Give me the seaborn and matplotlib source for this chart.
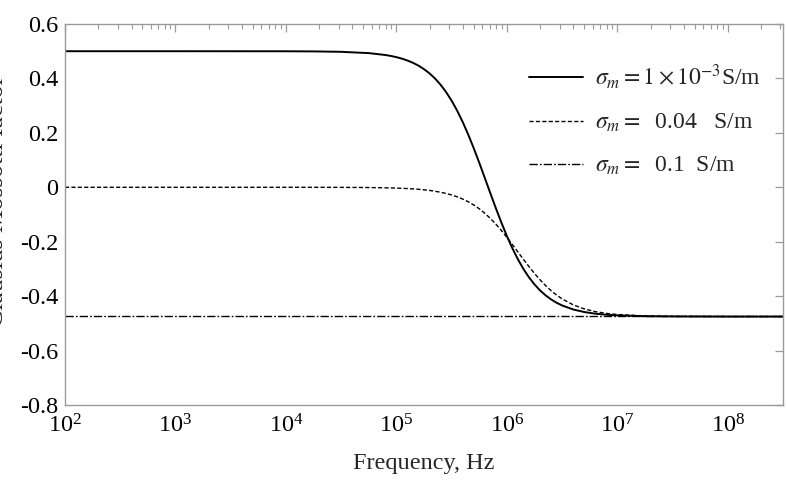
import matplotlib
matplotlib.use("Agg")
import matplotlib.pyplot as plt
import matplotlib.ticker as mticker
import pandas as pd
import seaborn as sns

# log10 of frequency (Hz) at the sampled points
LOG_FREQ = [2, 3, 4, 4.25, 4.5, 4.75,
            4.9, 4.95, 5.0, 5.05, 5.1, 5.15, 5.2, 5.25, 5.3, 5.35, 5.4, 5.45,
            5.5, 5.55, 5.6, 5.65, 5.7, 5.75, 5.8, 5.85, 5.9, 5.95, 6.0, 6.05,
            6.1, 6.15, 6.2, 6.25, 6.3, 6.35, 6.4, 6.45, 6.5,
            6.6, 6.7, 6.8, 6.9, 7.0, 7.25, 7.5, 8.0, 8.5]

CM_SIGMA_1E3 = [0.500, 0.500, 0.4998, 0.4993, 0.4978, 0.4930,
                0.4861, 0.4826, 0.4782, 0.4727, 0.4658, 0.4574, 0.4470, 0.4341,
                0.4185, 0.3996, 0.3769, 0.3499, 0.3183, 0.2818, 0.2403, 0.1941,
                0.1439, 0.0904, 0.0349, -0.0211, -0.0763, -0.1292, -0.1787, -0.2240,
                -0.2645, -0.3000, -0.3307, -0.3567, -0.3787, -0.3969, -0.4119,
                -0.4242, -0.4342,
                -0.4489, -0.4583, -0.4644, -0.4683, -0.4708, -0.4737, -0.4746,
                -0.475, -0.475]

CM_SIGMA_004 = [0.0, 0.0, 0.0, -0.0001, -0.0003, -0.0009,
                -0.0019, -0.0024, -0.0030, -0.0037, -0.0047, -0.0059, -0.0074,
                -0.0093, -0.0116, -0.0146, -0.0182, -0.0227, -0.0282, -0.0350,
                -0.0432, -0.0531, -0.0650, -0.0790, -0.0954, -0.1141, -0.1353,
                -0.1586, -0.1838, -0.2103, -0.2375, -0.2647, -0.2912, -0.3164,
                -0.3398, -0.3609, -0.3796, -0.3960, -0.4100,
                -0.4318, -0.4468, -0.4568, -0.4633, -0.4676, -0.4726, -0.4742,
                -0.475, -0.475]

CM_SIGMA_01 = [-0.472] * len(LOG_FREQ)

LABELS = [r"$\sigma_m$$=$$1\times10^{-3}$S/m",
          r"$\sigma_m$$=$  0.04   S/m",
          r"$\sigma_m$$=$  0.1  S/m"]


def set_style() -> None:
    sns.set_theme(style="white")
    plt.rcParams.update({
        "font.family": ["Liberation Serif", "DejaVu Serif"],
        "mathtext.fontset": "stix",
        "font.size": 17,
        "axes.edgecolor": "#9a9a9a",
        "axes.linewidth": 1.0,
    })


def build_figure() -> plt.Figure:
    fig = plt.figure(figsize=(7.87, 4.90), dpi=100)
    ax = fig.add_axes([65 / 787, 1 - 405 / 490, 718 / 787, 381 / 490])

    freq = [10 ** e for e in LOG_FREQ]
    series = [
        (CM_SIGMA_1E3, "-", 1.4, LABELS[0]),
        (CM_SIGMA_004, (0, (3.0, 1.6)), 1.0, LABELS[1]),
        (CM_SIGMA_01, (0, (6.0, 1.5, 1.2, 1.5)), 1.0, LABELS[2]),
    ]
    for values, ls, lw, label in series:
        df = pd.DataFrame({"freq": freq, "cm": values})
        sns.lineplot(data=df, x="freq", y="cm", ax=ax, color="black",
                     linestyle=ls, linewidth=lw, label=label, sort=True)

    ax.set_xscale("log")
    ax.set_xlim(1e2, 10**8.5)
    ax.set_ylim(-0.8, 0.6)
    ax.set_yticks([-0.8, -0.6, -0.4, -0.2, 0, 0.2, 0.4, 0.6])
    ax.yaxis.set_major_formatter(mticker.FuncFormatter(
        lambda v, _: "0" if abs(v) < 1e-9 else f"{v:.1f}"))
    ax.xaxis.set_major_locator(mticker.LogLocator(base=10, numticks=12))
    ax.xaxis.set_minor_locator(mticker.LogLocator(base=10, subs=range(2, 10), numticks=12))
    ax.xaxis.set_minor_formatter(mticker.NullFormatter())

    ax.tick_params(which="both", direction="in", top=True, right=True,
                   color="#9a9a9a", labelsize=17.5, labelcolor="black")
    ax.tick_params(which="major", length=6, width=0.9, pad=5)
    ax.tick_params(which="minor", length=3.5, width=0.8)
    ax.tick_params(axis="x", which="major", pad=7)

    ax.set_xlabel("Frequency, Hz", fontsize=17.5, labelpad=11)
    # the label runs partly off the left edge, as in the original figure
    ax.set_ylabel("Clausius Mossotti factor", fontsize=18.5)
    ax.yaxis.set_label_coords(-0.079, 0.535)

    ax.legend(loc="upper left", bbox_to_anchor=(0.616, 0.955), frameon=False,
              fontsize=17, handlelength=2.3, handletextpad=0.5,
              labelspacing=0.88)
    return fig


def main() -> None:
    set_style()
    fig = build_figure()
    fig.savefig("out.png", dpi=100, facecolor="white")


if __name__ == "__main__":
    main()
